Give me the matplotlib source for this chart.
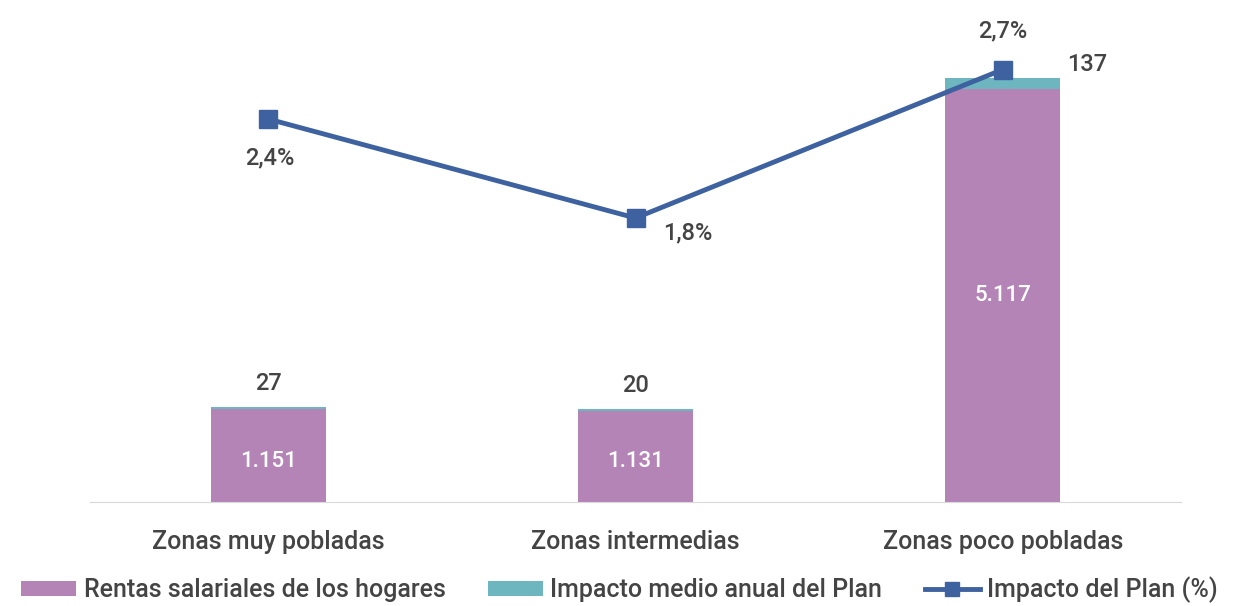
import matplotlib.pyplot as plt
import numpy as np

categories = ["Zonas muy pobladas", "Zonas intermedias", "Zonas poco pobladas"]
rentas = [1151, 1131, 5117]
impacto_medio = [27, 20, 137]
impacto_pct = [2.4, 1.8, 2.7]

rentas_labels = ["1.151", "1.131", "5.117"]
pct_labels = ["2,4%", "1,8%", "2,7%"]

purple = "#b584b6"
teal = "#6db6bf"
blue = "#3e62a0"
grey = "#444444"

plt.rcParams['font.family'] = ['Roboto', 'DejaVu Sans']
plt.rcParams['font.weight'] = 'medium'

fig = plt.figure(figsize=(12.39, 6.06), dpi=100)
ax = fig.add_axes([90 / 1239, 1 - 502 / 606, 1091 / 1239, 482 / 606])
x = np.arange(len(categories))
w = 0.313

ax.bar(x, rentas, w, color=purple, label="Rentas salariales de los hogares")
ax.bar(x, impacto_medio, w, bottom=rentas, color=teal, label="Impacto medio anual del Plan")
ax.set_xlim(-0.485, 2.485)
ax.set_ylim(0, 5973)
ax.set_yticks([])
for s in ["top", "right", "left"]:
    ax.spines[s].set_visible(False)
ax.spines["bottom"].set_color("#d9d9d9")
ax.set_xticks(x)
ax.set_xticklabels(categories, fontsize=18, color=grey)
ax.tick_params(axis="x", length=0, pad=20)

# labels inside and on top of the bars
for i in range(len(x)):
    ax.annotate(rentas_labels[i], (x[i], rentas[i] / 2), xytext=(0, -4 if i < 2 else 0),
                textcoords="offset points", ha="center", va="center",
                color="white", fontsize=16)
    if i < 2:
        ax.annotate(str(impacto_medio[i]), (x[i], rentas[i] + impacto_medio[i]),
                    xytext=(0, 17), textcoords="offset points", ha="center",
                    va="center", color=grey, fontsize=17)
    else:
        ax.annotate(str(impacto_medio[i]), (x[i] + w / 2, rentas[i] + impacto_medio[i]),
                    xytext=(5, 10), textcoords="offset points", ha="left",
                    va="center", color=grey, fontsize=17)

ax2 = ax.twinx()
ax2.set_ylim(0.079, 3.0)
ax2.set_yticks([])
for s in ax2.spines.values():
    s.set_visible(False)
ax2.plot(x, impacto_pct, color=blue, lw=3.5, marker="s", ms=13,
         label="Impacto del Plan (%)")

offsets = [(1, -28), (38, -11), (0, 28)]
for i in range(len(x)):
    ax2.annotate(pct_labels[i], (x[i], impacto_pct[i]), xytext=offsets[i],
                 textcoords="offset points", ha="center", va="center",
                 color=grey, fontsize=17)

h1, l1 = ax.get_legend_handles_labels()
h2, l2 = ax2.get_legend_handles_labels()
fig.legend(h1 + h2, l1 + l2, loc="center", bbox_to_anchor=(0.5, 1 - 590 / 606),
           ncol=3, frameon=False, fontsize=18, labelcolor=grey,
           handlelength=2.2, handleheight=0.5, columnspacing=1.7, handletextpad=0.3,
           markerscale=0.75)

plt.savefig("out.png", dpi=100)
